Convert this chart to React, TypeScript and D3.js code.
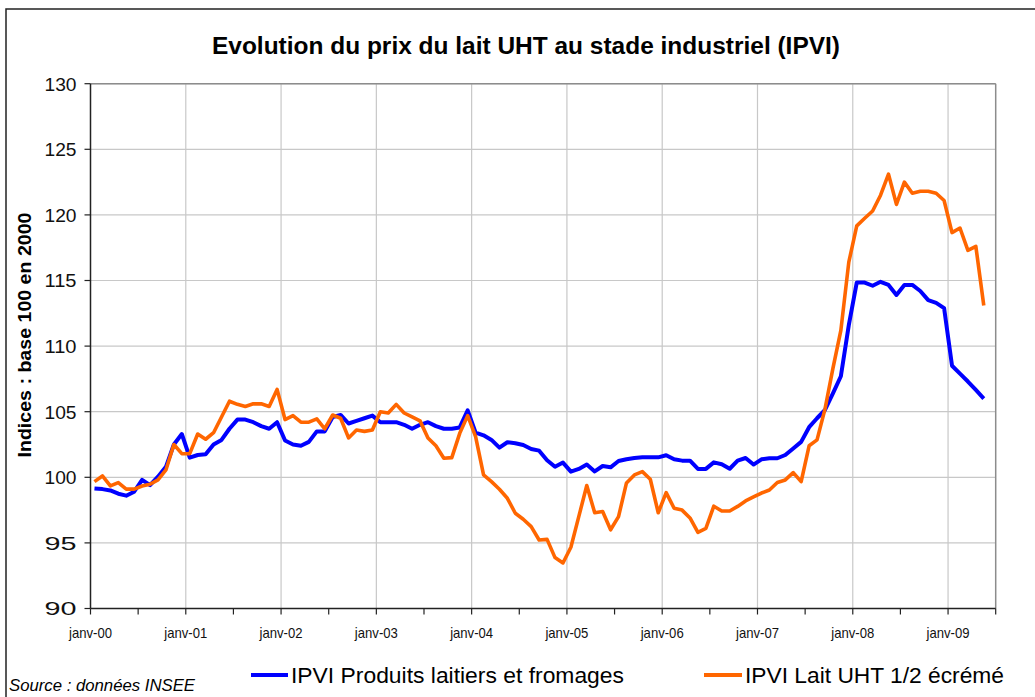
import React from 'react';
import * as d3 from 'd3';

// Monthly index values, janv-00 .. mai-09 (base 100 en 2000)
const produitsLaitiers = [
  99.15, 99.1, 99.0, 98.75, 98.6, 98.9, 99.8, 99.4, 100.05, 100.8, 102.5, 103.3,
  101.5, 101.7, 101.75, 102.5, 102.85, 103.7, 104.4, 104.4, 104.2, 103.9, 103.7, 104.2,
  102.8, 102.5, 102.4, 102.7, 103.5, 103.5, 104.6, 104.75, 104.1, 104.3, 104.5, 104.7,
  104.2, 104.2, 104.2, 104.0, 103.7, 104.0, 104.2, 103.9, 103.7, 103.7, 103.8, 105.1,
  103.4, 103.2, 102.85, 102.26, 102.67, 102.6, 102.46, 102.16, 102.03, 101.3, 100.8, 101.12,
  100.43, 100.64, 100.97, 100.45, 100.86, 100.76, 101.24, 101.38, 101.47, 101.52, 101.52, 101.52,
  101.68, 101.37, 101.27, 101.27, 100.64, 100.64, 101.14, 101.0, 100.65, 101.27, 101.47, 100.97,
  101.37, 101.45, 101.45, 101.7, 102.2, 102.7, 103.82, 104.5, 105.13, 106.4, 107.7, 111.6,
  114.84, 114.84, 114.6, 114.9, 114.66, 113.9, 114.66, 114.66, 114.2, 113.5, 113.3, 112.9,
  108.5, 107.9, 107.3, 106.66, 106.0,
];

const laitUHT = [
  99.67, 100.1, 99.34, 99.6, 99.1, 99.1, 99.34, 99.47, 99.8, 100.56, 102.5, 101.8,
  101.8, 103.3, 102.9, 103.4, 104.6, 105.8, 105.56, 105.4, 105.6, 105.6, 105.4, 106.7,
  104.4, 104.7, 104.2, 104.2, 104.45, 103.7, 104.75, 104.5, 103.0, 103.6, 103.5, 103.6,
  105.0, 104.9, 105.56, 104.9, 104.6, 104.3, 103.0, 102.4, 101.45, 101.5, 103.35, 104.7,
  103.1, 100.18, 99.67, 99.09, 98.4, 97.26, 96.8, 96.24, 95.22, 95.27, 93.88, 93.47,
  94.67, 97.02, 99.37, 97.3, 97.39, 96.0, 97.0, 99.57, 100.18, 100.43, 99.85, 97.3,
  98.83, 97.64, 97.5, 96.9, 95.8, 96.1, 97.8, 97.43, 97.43, 97.78, 98.2, 98.5,
  98.8, 99.03, 99.6, 99.8, 100.36, 99.67, 102.4, 102.85, 105.2, 108.3, 111.2, 116.4,
  119.16, 119.74, 120.3, 121.5, 123.1, 120.8, 122.5, 121.65, 121.8, 121.8, 121.65, 121.1,
  118.65, 119.0, 117.3, 117.6, 113.1,
];

const yearLabels = [
  'janv-00', 'janv-01', 'janv-02', 'janv-03', 'janv-04',
  'janv-05', 'janv-06', 'janv-07', 'janv-08', 'janv-09',
];
const yTicks = [90, 95, 100, 105, 110, 115, 120, 125, 130];
const monthCount = 114; // janv-00 .. juin-09 on the axis

const seriesNames = ['IPVI Produits laitiers et fromages', 'IPVI Lait UHT 1/2 écrémé'];
const seriesColors = ['#0000ff', '#ff6600'];

const FONT = '"Liberation Sans", Arial, Helvetica, sans-serif';

export default function App() {
  const left = 90.5, right = 995.7, top = 83.7, bottom = 608.5;

  const x = d3.scaleLinear().domain([0, monthCount]).range([left, right]);
  const y = d3.scaleLinear().domain([90, 130]).range([bottom, top]);

  const line = d3.line<number>()
    .x((_, i) => x(i + 0.5))
    .y(d => y(d));

  const halfYears = d3.range(0, monthCount + 1, 6);
  const years = d3.range(0, monthCount, 12);

  return (
    <svg width={1035} height={697} style={{ position: 'absolute', left: 0, top: 0, background: '#fff' }}
      fontFamily={FONT}>
      <rect x={6} y={9} width={1040} height={700} fill="#fff" stroke="#222" strokeWidth={1.5} />

      <text x={526} y={54} textAnchor="middle" fontSize={23} fontWeight="bold" textLength={628}
        lengthAdjust="spacingAndGlyphs">
        Evolution du prix du lait UHT au stade industriel (IPVI)
      </text>

      {/* gridlines */}
      {yTicks.map(t => (
        <line key={'gy' + t} x1={left} x2={right} y1={y(t)} y2={y(t)} stroke="#c8c8c8" strokeWidth={1.2} />
      ))}
      {years.slice(1).map(m => (
        <line key={'gx' + m} x1={x(m)} x2={x(m)} y1={top} y2={bottom} stroke="#c8c8c8" strokeWidth={1.2} />
      ))}
      <line x1={left} x2={right} y1={top} y2={top} stroke="#8c8c8c" strokeWidth={1.5} />
      <line x1={right} x2={right} y1={top} y2={bottom} stroke="#8c8c8c" strokeWidth={1.5} />

      {/* y axis */}
      <line x1={left} x2={left} y1={top} y2={bottom} stroke="#222" strokeWidth={1.5} />
      {yTicks.map(t => (
        <g key={'ty' + t}>
          <line x1={left - 6} x2={left} y1={y(t)} y2={y(t)} stroke="#222" strokeWidth={1.2} />
          <text x={left - 14} y={y(t)} dy="0.36em" textAnchor="end" fontSize={19} textLength={32}
            lengthAdjust="spacingAndGlyphs" fill="#111">{t}</text>
        </g>
      ))}
      <text transform={`translate(31,335) rotate(-90)`} textAnchor="middle"
        fontSize={19} fontWeight="bold" textLength={245} lengthAdjust="spacingAndGlyphs">
        Indices : base 100 en 2000
      </text>

      {/* x axis */}
      <line x1={left} x2={right} y1={bottom} y2={bottom} stroke="#222" strokeWidth={1.5} />
      {halfYears.map(m => (
        <line key={'tx' + m} x1={x(m)} x2={x(m)} y1={bottom} y2={bottom + 6} stroke="#222" strokeWidth={1.2} />
      ))}
      {years.map((m, i) => (
        <text key={'lx' + m} x={x(m)} y={638} textAnchor="middle" fontSize={15} textLength={43}
          lengthAdjust="spacingAndGlyphs" fill="#111">{yearLabels[i]}</text>
      ))}

      {/* series */}
      <path d={line(produitsLaitiers) || ''} fill="none" stroke={seriesColors[0]} strokeWidth={4}
        strokeLinejoin="round" />
      <path d={line(laitUHT) || ''} fill="none" stroke={seriesColors[1]} strokeWidth={3.6}
        strokeLinejoin="round" />

      {/* legend */}
      <line x1={251} x2={288} y1={675} y2={675} stroke={seriesColors[0]} strokeWidth={4} />
      <text x={291} y={683} fontSize={22} textLength={333} lengthAdjust="spacingAndGlyphs">{seriesNames[0]}</text>
      <line x1={704} x2={742} y1={675} y2={675} stroke={seriesColors[1]} strokeWidth={4} />
      <text x={745} y={683} fontSize={22} textLength={259} lengthAdjust="spacingAndGlyphs">{seriesNames[1]}</text>

      <text x={9} y={691} fontSize={16} fontStyle="italic" textLength={186}
        lengthAdjust="spacingAndGlyphs">Source : données INSEE</text>
    </svg>
  );
}
